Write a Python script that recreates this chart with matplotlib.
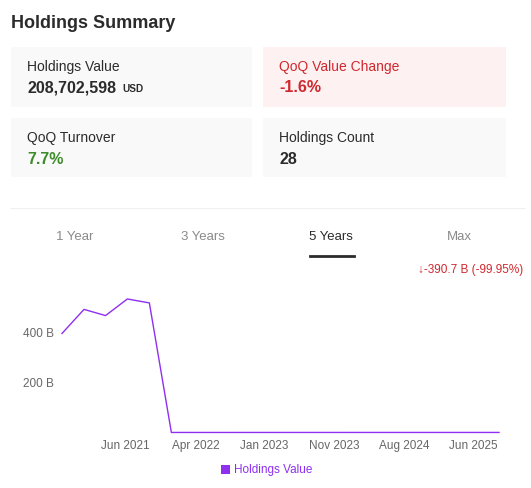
import matplotlib
matplotlib.use('Agg')
import matplotlib.pyplot as plt
import matplotlib.dates as mdates
from matplotlib.patches import Rectangle
import numpy as np

plt.rcParams['font.family'] = ['Liberation Sans', 'DejaVu Sans']

# quarterly report dates and holdings value (billions USD)
dates = np.array(['2020-09-30', '2020-12-31', '2021-03-31', '2021-06-30', '2021-09-30',
                  '2021-12-31', '2022-03-31', '2022-06-30', '2022-09-30', '2022-12-31',
                  '2023-03-31', '2023-06-30', '2023-09-30', '2023-12-31', '2024-03-31',
                  '2024-06-30', '2024-09-30', '2024-12-31', '2025-03-31', '2025-06-30',
                  '2025-09-30'], dtype='datetime64[D]')
values = [390.9, 486.0, 461.5, 527.0, 511.6,
          0.19, 0.18, 0.17, 0.18, 0.19,
          0.20, 0.21, 0.20, 0.21, 0.22,
          0.22, 0.21, 0.22, 0.21, 0.212,
          0.2087]

tick_dates = np.array(['2021-06-23', '2022-04-11', '2023-01-24', '2023-11-13',
                       '2024-08-31', '2025-06-15'], dtype='datetime64[D]')
tick_labels = ['Jun 2021', 'Apr 2022', 'Jan 2023', 'Nov 2023', 'Aug 2024', 'Jun 2025']
y_ticks = [200, 400]
y_labels = ['200 B', '400 B']

card_titles = ['Holdings Value', 'QoQ Value Change', 'QoQ Turnover', 'Holdings Count']
card_values = ['208,702,598', '-1.6%', '7.7%', '28']
tabs = ['1 Year', '3 Years', '5 Years', 'Max']
change_text = '\u2193-390.7 B (-99.95%)'

W, H = 531, 489
fig = plt.figure(figsize=(W / 100, H / 100), dpi=100)


def fx(x):
    return x / W


def fy(y):
    return 1 - y / H


def box(x0, y0, x1, y1, color):
    fig.add_artist(Rectangle((fx(x0), fy(y1)), fx(x1 - x0), (y1 - y0) / H,
                             transform=fig.transFigure, facecolor=color,
                             edgecolor='none', zorder=0))


RED = '#d0282e'
GREEN = '#3d8b2a'
DARK = '#2b2b2b'
PURPLE = '#8f2ff0'

fig.text(fx(11), fy(23), 'Holdings Summary', fontsize=13, fontweight='bold',
         color=DARK, va='center')

# summary cards
cards = [(11, 48, 252, 108, '#f9f9f9'), (263, 48, 506, 108, '#fdf1f1'),
         (11, 119, 252, 178, '#f9f9f9'), (263, 119, 506, 178, '#f9f9f9')]
value_colors = [DARK, RED, GREEN, DARK]
title_colors = [DARK, RED, DARK, DARK]
for (x0, y0, x1, y1, c), t, v, tc, vc in zip(cards, card_titles, card_values,
                                             title_colors, value_colors):
    box(x0, y0, x1, y1, c)
    fig.text(fx(x0 + 16), fy(y0 + 19), t, fontsize=10, color=tc, va='center')
    fig.text(fx(x0 + 16), fy(y0 + 40), v, fontsize=11.5, fontweight='bold',
             color=vc, va='center')
fig.text(fx(122), fy(89), 'USD', fontsize=7.2, fontweight='bold', color=DARK,
         va='center')

# separator
fig.add_artist(plt.Line2D([fx(10), fx(525)], [fy(209), fy(209)],
                          transform=fig.transFigure, color='#f0f0f0', lw=0.8))

# range tabs
tab_x = [75, 203, 331, 459]
for x, t in zip(tab_x, tabs):
    col = DARK if t == '5 Years' else '#8a8a8a'
    fig.text(fx(x), fy(237), t, fontsize=9.5, color=col, ha='center', va='center')
fig.add_artist(plt.Line2D([fx(310), fx(354)], [fy(256.5), fy(256.5)],
                          transform=fig.transFigure, color=DARK, lw=2))
fig.text(fx(523), fy(270), change_text, fontsize=8.5, color=RED, ha='right',
         va='center', family=['Liberation Sans', 'DejaVu Sans'])

# line chart
ax = fig.add_axes([fx(62), fy(433.5), fx(499 - 62), (433.5 - 281.5) / H])
ax.plot(dates, values, color=PURPLE, lw=1.0, clip_on=False)
ax.set_xlim(dates[0], dates[-1])
ax.set_ylim(0, 600)
ax.set_xticks(tick_dates)
ax.set_xticklabels(tick_labels)
ax.set_yticks(y_ticks)
ax.set_yticklabels(y_labels)
ax.tick_params(length=0, labelsize=8.5, colors='#666666')
ax.tick_params(axis='x', pad=4.5)
ax.tick_params(axis='y', pad=6)
for s in ax.spines.values():
    s.set_visible(False)
ax.patch.set_alpha(0)

# legend
box(221, 466, 230, 475, PURPLE)
fig.text(fx(234), fy(470.5), 'Holdings Value', fontsize=8.5, color=PURPLE,
         va='center')

plt.savefig('out.png', dpi=100)
plt.close()
